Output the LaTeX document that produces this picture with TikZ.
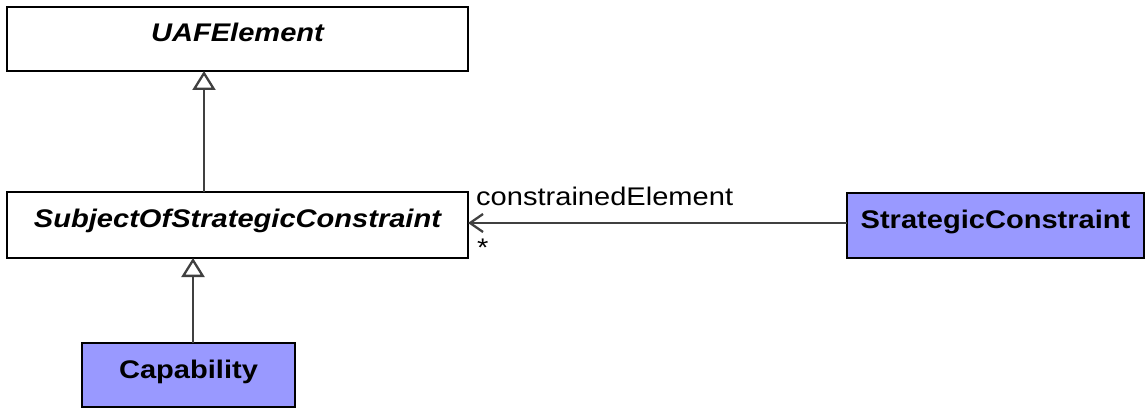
\documentclass[tikz,border=0pt]{standalone}
\usepackage{fontspec}
\setmainfont{Liberation Sans}[FakeStretch=1.14]
\usetikzlibrary{arrows.meta}
\definecolor{cfill}{RGB}{153,153,255}
\definecolor{lnc}{RGB}{64,64,64}
\tikzset{
  cls/.style={draw=black, line width=2.4pt, inner sep=0pt, outer sep=0pt, anchor=north west,
    font=\fontsize{25.5}{28}\selectfont\bfseries, text height=35pt},
  abstractcls/.style={cls, fill=white, font=\fontsize{25.5}{28}\selectfont\bfseries\itshape},
  concretecls/.style={cls, fill=cfill},
  gen/.style={draw=lnc, line width=2.3pt, -{Triangle[open, length=19pt, width=23pt, fill=white, line width=2.3pt]}},
  assoc/.style={draw=lnc, line width=2.3pt, -{Straight Barb[length=13pt, width=18pt, line width=2.3pt]}},
  lbl/.style={font=\fontsize{25.5}{28}\selectfont, inner sep=0pt, anchor=base west}
}
\begin{document}
\begin{tikzpicture}[x=1pt, y=-1pt]
\useasboundingbox (0,0) rectangle (1146,409);
\node[abstractcls, minimum width=461pt, minimum height=64pt, text depth=29pt] (uaf) at (7,7) {UAFElement};
\node[abstractcls, minimum width=461pt, minimum height=66pt, text depth=31pt] (sub) at (7,192) {SubjectOfStrategicConstraint};
\node[concretecls, minimum width=213pt, minimum height=64pt, text depth=29pt] (cap) at (82,343) {Capability};
\node[concretecls, minimum width=297pt, minimum height=65pt, text depth=30pt] (sc) at (847,193) {StrategicConstraint};
\draw[gen] (sub.north -| 204,0) -- (uaf.south -| 204,0);
\draw[gen] (cap.north -| 193,0) -- (sub.south -| 193,0);
\draw[assoc] (sc.west |- 0,223) -- (sub.east |- 0,223);
\node[lbl] (role) at (476,205) {constrainedElement};
\node[lbl] (mult) at (477,256) {*};
\end{tikzpicture}
\end{document}
